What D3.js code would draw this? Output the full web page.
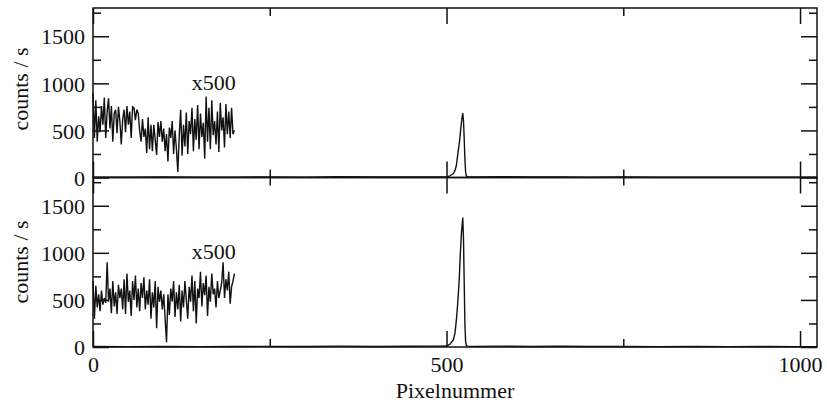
<!DOCTYPE html>
<html><head><meta charset="utf-8">
<script src="https://cdn.jsdelivr.net/npm/d3@7"></script>
<style>
body{margin:0;background:#fff}
svg{display:block}
svg text{font-family:'Liberation Serif','Times New Roman',Times,'DejaVu Serif',serif;fill:#111}
</style>
</head><body>
<svg id="c" width="827" height="403"></svg>
<script>
// ---- data ----
const xMajorTicks = [0, 500, 1000];
const xMinorTicks = [250, 750];
const yMajorTicks = [0, 500, 1000, 1500];
const yMinorTicks = [250, 750, 1250, 1750];
const xLabel = "Pixelnummer";
const yLabel = "counts / s";
const insetLabel = "x500";

// main spectra (counts / s)
const topMainPixels = [0, 50, 100, 150, 200, 250, 300, 350, 400, 450, 490, 500, 505, 510, 512, 514, 516, 518, 520, 521, 522, 523, 524, 525, 526, 527, 528, 530, 540, 580, 620, 660, 700, 750, 800, 850, 900, 950, 1000, 1024];
const topMainValues = [4, 3, 5, 3, 4, 6, 4, 8, 5, 6, 7, 8, 18, 45, 75, 130, 250, 360, 500, 580, 640, 681, 600, 420, 200, 60, 15, 8, 6, 8, 5, 6, 4, 5, 3, 4, 3, 4, 3, 3];
const bottomMainPixels = [0, 50, 100, 150, 200, 250, 300, 350, 400, 450, 490, 500, 505, 510, 512, 514, 516, 518, 519, 520, 521, 522, 523, 524, 525, 526, 527, 528, 530, 540, 580, 620, 660, 700, 750, 800, 850, 900, 950, 1000, 1024];
const bottomMainValues = [5, 4, 6, 4, 5, 7, 5, 9, 6, 8, 9, 10, 30, 80, 150, 290, 480, 720, 900, 1060, 1200, 1290, 1370, 1150, 700, 250, 60, 15, 9, 7, 9, 6, 8, 5, 6, 4, 5, 4, 5, 4, 4];

// x500 magnified region, pixels 0..200 (step 2), values shown already multiplied by 500
const insetPixels = [0,2,4,6,8,10,12,14,16,18,20,22,24,26,28,30,32,34,36,38,40,42,44,46,48,50,52,54,56,58,60,62,64,66,68,70,72,74,76,78,80,82,84,86,88,90,92,94,96,98,100,102,104,106,108,110,112,114,116,118,120,122,124,126,128,130,132,134,136,138,140,142,144,146,148,150,152,154,156,158,160,162,164,166,168,170,172,174,176,178,180,182,184,186,188,190,192,194,196,198,200];
const topInsetValues = [
  900, 420, 820, 380, 650, 480, 760, 560, 850, 420, 700,
  840, 520, 760, 380, 680, 720, 470, 750, 600, 350,
  620, 720, 480, 760, 560, 700, 420, 750, 740, 610,
  720, 680, 500, 380, 620, 430, 520, 260, 640, 300,
  560, 280, 560, 400, 240, 590, 430, 600, 380, 520,
  280, 460, 170, 530, 420, 600, 250, 500, 300, 60,
  450, 720, 230, 560, 330, 690, 250, 600, 460, 740,
  280, 620, 400, 770, 300, 680, 430, 580, 200, 860,
  380, 740, 300, 820, 450, 600, 350, 700, 270, 790,
  500, 640, 320, 780, 460, 700, 420, 740, 460, 500];
const bottomInsetValues = [
  700, 300, 650, 420, 560, 380, 600, 450, 520, 470, 900,
  480, 620, 360, 700, 430, 580, 350, 660, 520, 620,
  400, 720, 350, 780, 480, 600, 330, 700, 500, 760,
  420, 620, 380, 680, 520, 740, 400, 600, 450, 720,
  300, 580, 420, 700, 200, 640, 480, 600, 400, 560,
  300, 50, 560, 340, 620, 480, 700, 320, 580, 400,
  660, 270, 600, 420, 700, 500, 300, 640, 480, 760,
  380, 700, 250, 620, 520, 800, 430, 680, 550, 760,
  330, 640, 480, 780, 560, 620, 420, 700, 520, 600,
  680, 900, 520, 720, 600, 800, 460, 640, 700, 780];

// ---- drawing ----
const svg = d3.select("#c");
const left = 93, right = 817;
const x = d3.scaleLinear().domain([0, 1024]).range([left, right]);
const panels = [
  {top: 8, bottom: 177.5, mp: topMainPixels, mv: topMainValues, iv: topInsetValues, labels: false, yLabelY: 89},
  {top: 177.5, bottom: 347, mp: bottomMainPixels, mv: bottomMainValues, iv: bottomInsetValues, labels: true, yLabelY: 262}
];
const ink = "#111";
const FS = 22;
const FF = "'Liberation Serif','Times New Roman',Times,'DejaVu Serif',serif";

function style(g){
  g.attr("font-family", FF);
  g.select(".domain").remove();
  g.selectAll(".tick line").attr("stroke", ink).attr("stroke-width", 1.5);
  g.selectAll(".tick text").attr("font-size", FS).attr("font-family", FF).attr("fill", ink);
}

panels.forEach(p => {
  const y = d3.scaleLinear().domain([0, 1800]).range([p.bottom, p.top]);
  const g = svg.append("g");
  const line = d3.line().x(d => x(d[0])).y(d => y(d[1]));

  // main spectrum
  g.append("path").datum(d3.zip(p.mp, p.mv)).attr("d", line)
    .attr("fill", "none").attr("stroke", ink).attr("stroke-width", 1.4).attr("stroke-linejoin", "round");
  // x500 inset
  g.append("path").datum(d3.zip(insetPixels, p.iv)).attr("d", line)
    .attr("fill", "none").attr("stroke", ink).attr("stroke-width", 1.4).attr("stroke-linejoin", "miter");
  g.append("text").attr("x", x(202)).attr("y", y(930)).attr("text-anchor", "end")
    .attr("font-family", FF).attr("font-size", FS).text(insetLabel);

  // axes (inward ticks)
  const la = g.append("g").attr("transform", `translate(${left},0)`)
    .call(d3.axisLeft(y).tickValues(yMajorTicks).tickSize(-16).tickPadding(8).tickFormat(d3.format("d")));
  style(la);
  la.selectAll(".tick text").attr("dy", "0.35em");
  style(g.append("g").attr("transform", `translate(${left},0)`)
    .call(d3.axisLeft(y).tickValues(yMinorTicks).tickSize(-8).tickFormat("")));
  style(g.append("g").attr("transform", `translate(${right},0)`)
    .call(d3.axisRight(y).tickValues(yMajorTicks).tickSize(-16).tickFormat("")));
  style(g.append("g").attr("transform", `translate(${right},0)`)
    .call(d3.axisRight(y).tickValues(yMinorTicks).tickSize(-8).tickFormat("")));
  style(g.append("g").attr("transform", `translate(0,${p.top})`)
    .call(d3.axisTop(x).tickValues(xMajorTicks).tickSize(-16).tickFormat("")));
  style(g.append("g").attr("transform", `translate(0,${p.top})`)
    .call(d3.axisTop(x).tickValues(xMinorTicks).tickSize(-8).tickFormat("")));
  const ba = g.append("g").attr("transform", `translate(0,${p.bottom})`)
    .call(d3.axisBottom(x).tickValues(xMajorTicks).tickSize(-16).tickPadding(9)
      .tickFormat(p.labels ? d3.format("d") : ""));
  style(ba);
  style(g.append("g").attr("transform", `translate(0,${p.bottom})`)
    .call(d3.axisBottom(x).tickValues(xMinorTicks).tickSize(-8).tickFormat("")));

  // frame
  g.append("rect").attr("x", left).attr("y", p.top).attr("width", right - left).attr("height", p.bottom - p.top)
    .attr("fill", "none").attr("stroke", ink).attr("stroke-width", 1.5);

  // y label
  g.append("text").attr("transform", `translate(28,${p.yLabelY}) rotate(-90)`)
    .attr("text-anchor", "middle").attr("font-family", FF).attr("font-size", FS).text(yLabel);
});

svg.append("text").attr("x", 455).attr("y", 398).attr("text-anchor", "middle")
  .attr("font-family", FF).attr("font-size", FS).text(xLabel);
</script>
</body></html>
